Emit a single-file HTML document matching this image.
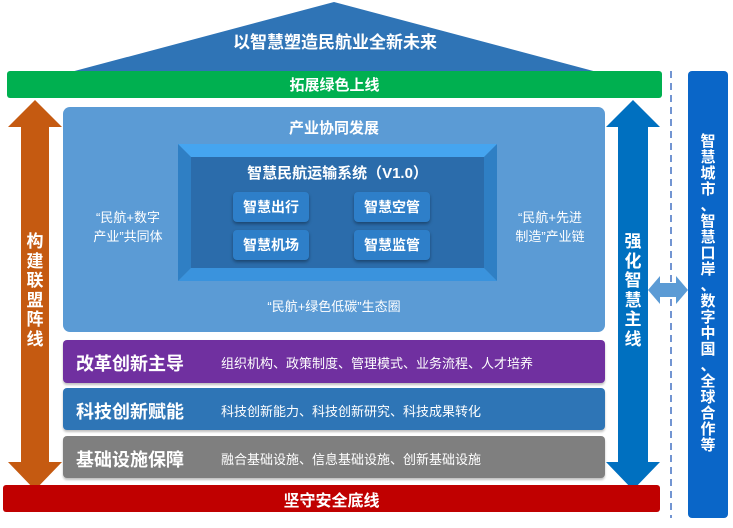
<!DOCTYPE html>
<html><head><meta charset="utf-8"><style>
body{margin:0;width:733px;height:528px;background:#fff;position:relative;overflow:hidden;font-family:"Liberation Sans","Noto Sans CJK SC",sans-serif;font-weight:bold;color:#fff}
.a{position:absolute}
.c{display:flex;align-items:center;justify-content:center}
.v{position:absolute;width:24px;text-align:center;line-height:19.5px;font-size:17px}
.bar{position:absolute;left:63px;width:542px;border-radius:4px;box-shadow:0 2px 2px rgba(0,0,0,.25)}
.bar .t{position:absolute;left:13px;font-size:18px}
.bar .s{position:absolute;left:158px;font-size:13px;font-weight:normal}
.btn{position:absolute;width:76px;height:30px;background:#2e7fc9;border-radius:4px;box-shadow:0 2px 3px rgba(0,0,0,.35);font-size:14px}
</style></head><body>
<svg class="a" style="left:0;top:0" width="733" height="528">
<polygon points="334,2 7,89 661,89" fill="#2f74b6"/>
<rect x="7" y="71" width="655" height="27" rx="3" fill="#00b050"/>
<polygon points="35,100 62,127 49,127 49,462 62,462 35,490 8,462 21,462 21,127 8,127" fill="#c55a11"/>
<polygon points="633,100 660,127 648,127 648,462 660,462 633,490 606,462 618,462 618,127 606,127" fill="#0070c0"/>
<line x1="671" y1="71" x2="671" y2="518" stroke="#4472c4" stroke-width="1.5" stroke-dasharray="7,5"/>
<polygon points="648,290 660,276 660,283 676,283 676,276 688,290 676,304 676,297 660,297 660,304" fill="#5b9bd5"/>
<rect x="688" y="71" width="40" height="447" rx="4" fill="#0a66c8"/>
<rect x="63" y="107" width="542" height="225" rx="7" fill="#5b9bd5"/>
<polygon points="178,144 497,144 484,157 191,157" fill="#45a5f0"/>
<polygon points="178,281 497,281 484,268 191,268" fill="#3a93dd"/>
<polygon points="178,144 191,157 191,268 178,281" fill="#2f7fc4"/>
<polygon points="497,144 484,157 484,268 497,281" fill="#2f7fc4"/>
<rect x="191" y="157" width="293" height="111" fill="#2b6cab"/>
<rect x="3" y="485" width="657" height="27" rx="3" fill="#c00000"/>
</svg>
<div class="a c" style="left:180px;top:27px;width:310px;height:26px;font-size:17px">以智慧塑造民航业全新未来</div>
<div class="a c" style="left:7px;top:71px;width:655px;height:27px;font-size:15px">拓展绿色上线</div>
<div class="a c" style="left:63px;top:115px;width:542px;height:24px;font-size:15px">产业协同发展</div>
<div class="a c" style="left:191px;top:160px;width:293px;height:24px;font-size:15px">智慧民航运输系统（V1.0）</div>
<div class="btn c" style="left:233px;top:192px">智慧出行</div>
<div class="btn c" style="left:354px;top:192px">智慧空管</div>
<div class="btn c" style="left:233px;top:230px">智慧机场</div>
<div class="btn c" style="left:354px;top:230px">智慧监管</div>
<div class="a" style="left:78px;top:208px;width:100px;text-align:center;font-size:13px;font-weight:normal;line-height:19px">“民航+数字<br>产业”共同体</div>
<div class="a" style="left:500px;top:208px;width:100px;text-align:center;font-size:13px;font-weight:normal;line-height:19px">“民航+先进<br>制造”产业链</div>
<div class="a c" style="left:63px;top:295px;width:542px;height:20px;font-size:13px;font-weight:normal">“民航+绿色低碳”生态圈</div>
<div class="bar" style="top:340px;height:43px;background:#7030a0"><span class="t" style="top:10px">改革创新主导</span><span class="s" style="top:13px">组织机构、政策制度、管理模式、业务流程、人才培养</span></div>
<div class="bar" style="top:388px;height:42px;background:#2e75b6"><span class="t" style="top:10px">科技创新赋能</span><span class="s" style="top:13px">科技创新能力、科技创新研究、科技成果转化</span></div>
<div class="bar" style="top:436px;height:42px;background:#7f7f7f"><span class="t" style="top:10px">基础设施保障</span><span class="s" style="top:13px">融合基础设施、信息基础设施、创新基础设施</span></div>
<div class="a c" style="left:3px;top:485px;width:657px;height:27px;font-size:16px">坚守安全底线</div>
<div class="v" style="left:23px;top:232px">构<br>建<br>联<br>盟<br>阵<br>线</div>
<div class="v" style="left:621px;top:232px">强<br>化<br>智<br>慧<br>主<br>线</div>
<div class="a" style="left:696px;top:134px;width:24px;text-align:center;font-size:15px;line-height:16px">智<br>慧<br>城<br>市<br>、<br>智<br>慧<br>口<br>岸<br>、<br>数<br>字<br>中<br>国<br>、<br>全<br>球<br>合<br>作<br>等</div>
</body></html>
